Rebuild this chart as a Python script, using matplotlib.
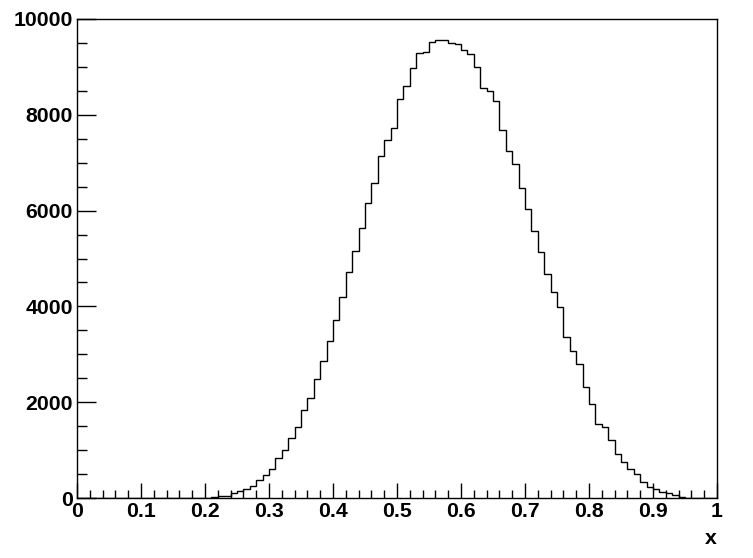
import matplotlib
matplotlib.use("Agg")
import matplotlib.pyplot as plt
import numpy as np

# bin contents, 100 bins from 0 to 1
counts = [0] * 20 + [
    5, 30, 40, 50, 95, 140, 180, 244, 370, 475,
    600, 830, 997, 1255, 1478, 1841, 2085, 2483, 2866, 3280,
    3717, 4198, 4721, 5161, 5642, 6165, 6584, 7148, 7475, 7734,
    8326, 8605, 8969, 9282, 9303, 9512, 9567, 9554, 9491, 9470,
    9345, 9268, 8989, 8550, 8494, 8285, 7675, 7235, 6963, 6479,
    6025, 5579, 5140, 4686, 4303, 3989, 3362, 3075, 2797, 2316,
    1960, 1542, 1485, 1207, 920, 747, 607, 502, 335, 230,
    188, 125, 98, 56, 15, 6, 2, 0, 0, 0,
]
edges = np.linspace(0, 1, len(counts) + 1)

x_ticks = [0, 0.1, 0.2, 0.3, 0.4, 0.5, 0.6, 0.7, 0.8, 0.9, 1]
x_labels = ["0", "0.1", "0.2", "0.3", "0.4", "0.5", "0.6", "0.7", "0.8", "0.9", "1"]
y_ticks = [0, 2000, 4000, 6000, 8000, 10000]

plt.rcParams['font.family'] = ['Liberation Sans', 'DejaVu Sans']

fig = plt.figure(figsize=(7.53, 5.58), dpi=100)
ax = fig.add_axes([77 / 753, 1 - 498 / 558, 640 / 753, 479 / 558])

ax.stairs(counts, edges, color="black", linewidth=1.0)

ax.set_xlim(0, 1)
ax.set_ylim(0, 10000)

ax.set_xticks(x_ticks)
ax.set_xticklabels(x_labels)
ax.set_xticks(np.arange(0, 1.0001, 0.02), minor=True)
ax.set_yticks(y_ticks)
ax.set_yticklabels([str(v) for v in y_ticks])
ax.set_yticks(np.arange(0, 10001, 500), minor=True)

ax.tick_params(axis="both", which="both", direction="in", top=False, right=False,
               labelsize=15.3, width=1, color="black")
ax.tick_params(axis="x", which="major", length=11, pad=3)
ax.tick_params(axis="x", which="minor", length=5.5)
ax.tick_params(axis="y", which="major", length=14, pad=3)
ax.tick_params(axis="y", which="minor", length=7)
for lab in ax.get_xticklabels() + ax.get_yticklabels():
    lab.set_fontweight("bold")

for s in ax.spines.values():
    s.set_linewidth(1.0)

fig.text(717 / 753, 1 - 538 / 558, "x", ha="right", va="center",
         fontsize=15.3, fontweight="bold")

fig.savefig("out.png", dpi=100, facecolor="white")
